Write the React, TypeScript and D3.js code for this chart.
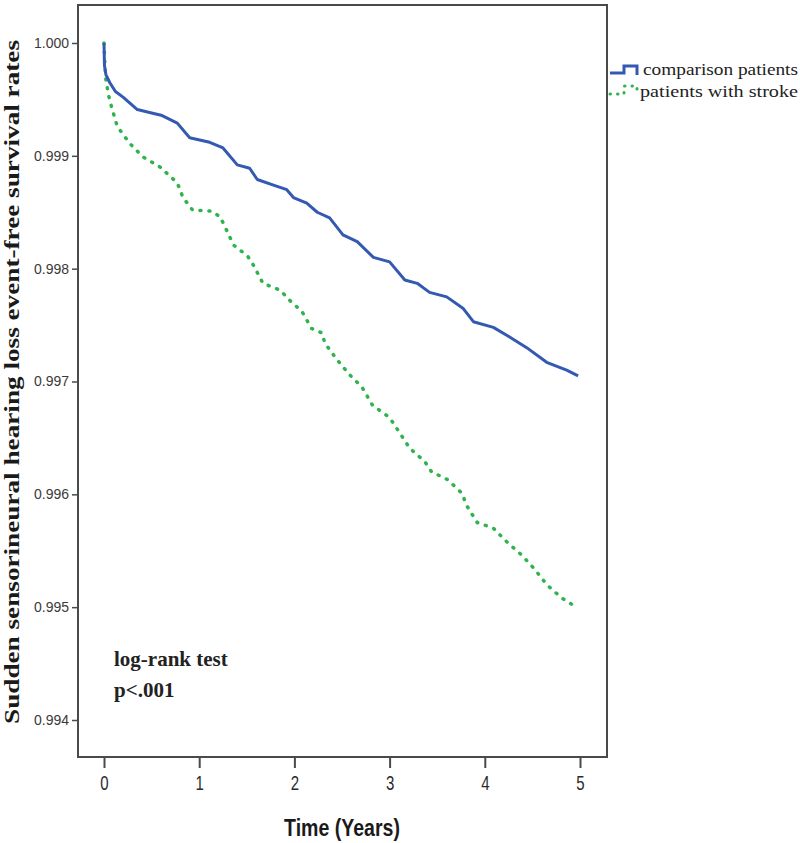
import React, { useEffect, useRef } from "react";
import * as d3 from "d3";

// comparison patients (blue, solid)
const compTime = [0, 0.005, 0.02, 0.06, 0.12, 0.2, 0.35, 0.5, 0.6, 0.77, 0.9, 1.11, 1.25, 1.4, 1.53, 1.61, 1.78, 1.92, 1.99, 2.13, 2.24, 2.37, 2.51, 2.66, 2.83, 3.0, 3.16, 3.29, 3.42, 3.6, 3.77, 3.88, 4.09, 4.23, 4.44, 4.65, 4.86, 4.98];
const compSurv = [1.0, 0.9998, 0.99972, 0.99965, 0.99957, 0.99952, 0.99941, 0.99938, 0.99936, 0.99929, 0.99916, 0.99912, 0.99907, 0.99892, 0.99889, 0.99879, 0.99874, 0.9987, 0.99863, 0.99858, 0.9985, 0.99845, 0.9983, 0.99824, 0.9981, 0.99806, 0.9979, 0.99787, 0.99779, 0.99775, 0.99765, 0.99753, 0.99748, 0.99741, 0.9973, 0.99717, 0.9971, 0.99705];

// patients with stroke (green, dotted)
const strokeTime = [0, 0.01, 0.02, 0.05, 0.08, 0.14, 0.27, 0.41, 0.59, 0.77, 0.83, 0.93, 1.13, 1.22, 1.3, 1.36, 1.51, 1.57, 1.67, 1.85, 1.95, 2.08, 2.18, 2.29, 2.32, 2.45, 2.58, 2.71, 2.82, 3.0, 3.11, 3.21, 3.37, 3.44, 3.61, 3.76, 3.81, 3.92, 4.09, 4.23, 4.39, 4.53, 4.65, 4.81, 4.98];
const strokeSurv = [1.0, 0.9998, 0.99967, 0.99953, 0.99943, 0.99926, 0.99911, 0.99899, 0.9989, 0.99876, 0.99863, 0.99852, 0.99851, 0.99846, 0.99832, 0.99821, 0.99811, 0.99803, 0.99787, 0.99781, 0.99772, 0.99762, 0.99747, 0.99743, 0.99734, 0.99719, 0.99706, 0.99695, 0.99679, 0.99668, 0.99654, 0.99641, 0.99629, 0.9962, 0.99613, 0.99601, 0.9959, 0.99575, 0.9957, 0.99558, 0.99546, 0.99533, 0.9952, 0.99508, 0.99499];

const xTicks = [0, 1, 2, 3, 4, 5];
const yTicks = [0.994, 0.995, 0.996, 0.997, 0.998, 0.999, 1.0];

const App: React.FC = () => {
  const svgRef = useRef<SVGSVGElement>(null);

  useEffect(() => {
    const svg = d3.select(svgRef.current);
    svg.selectAll("*").remove();

    const L = 78, R = 607, T = 5, B = 757;
    const FRAME = "#4a4a4a";

    const x = d3.scaleLinear().domain([0, 5]).range([104, 580]);
    const y = d3.scaleLinear().domain([0.994, 1.0]).range([720, 43]);

    svg.append("rect")
      .attr("width", 800).attr("height", 843).attr("fill", "#fff");

    // y axis
    const yAxis = svg.append("g")
      .attr("transform", `translate(${L},0)`)
      .call(d3.axisLeft(y).tickValues(yTicks).tickFormat(d3.format(".3f")).tickSize(6).tickPadding(3));
    yAxis.select(".domain").remove();
    yAxis.selectAll("line").attr("stroke", FRAME).attr("stroke-width", 1.5);
    yAxis.selectAll("text")
      .attr("font-family", "Liberation Sans, Arial, sans-serif")
      .attr("font-size", 14)
      .attr("fill", "#3a3a3a");

    // x axis
    const xAxis = svg.append("g")
      .attr("transform", `translate(0,${B})`)
      .call(d3.axisBottom(x).tickValues(xTicks).tickFormat(d3.format("d")).tickSize(11).tickPadding(0));
    xAxis.select(".domain").remove();
    xAxis.selectAll("line").attr("stroke", FRAME).attr("stroke-width", 2);
    xAxis.selectAll(".tick text").remove();
    xAxis.selectAll(".tick").append("text")
      .attr("transform", "translate(0,33) scale(0.75,1)")
      .attr("text-anchor", "middle")
      .attr("font-family", "Liberation Sans, Arial, sans-serif")
      .attr("font-size", 20)
      .attr("fill", "#2a2a2a")
      .text((d: any) => String(d));

    // curves
    const line = d3.line<[number, number]>()
      .x(d => x(d[0]))
      .y(d => y(d[1]));

    const compPts = compTime.map((t, i) => [t, compSurv[i]] as [number, number]);
    const strokePts = strokeTime.map((t, i) => [t, strokeSurv[i]] as [number, number]);

    svg.append("path")
      .attr("d", line(strokePts))
      .attr("fill", "none")
      .attr("stroke", "#2fb34f")
      .attr("stroke-width", 3.5)
      .attr("stroke-linecap", "round")
      .attr("stroke-dasharray", "1 8");

    svg.append("path")
      .attr("d", line(compPts))
      .attr("fill", "none")
      .attr("stroke", "#3459b2")
      .attr("stroke-width", 3)
      .attr("stroke-linejoin", "round");

    // frame
    svg.append("rect")
      .attr("x", L).attr("y", T)
      .attr("width", R - L).attr("height", B - T)
      .attr("fill", "none")
      .attr("stroke", FRAME)
      .attr("stroke-width", 2);

    // legend
    svg.append("path")
      .attr("d", "M610,73 H624 V66 H637 V75")
      .attr("fill", "none")
      .attr("stroke", "#3459b2")
      .attr("stroke-width", 3);
    svg.append("path")
      .attr("d", "M610,94 H624 V86 H637 V94")
      .attr("fill", "none")
      .attr("stroke", "#2fb34f")
      .attr("stroke-width", 3)
      .attr("stroke-linecap", "round")
      .attr("stroke-dasharray", "0.5 7");

    const legendFont = "Liberation Serif, Times New Roman, serif";
    svg.append("text")
      .attr("x", 643).attr("y", 75)
      .attr("font-family", legendFont).attr("font-size", 16)
      .attr("textLength", 155).attr("lengthAdjust", "spacingAndGlyphs")
      .attr("fill", "#222")
      .text("comparison patients");
    svg.append("text")
      .attr("x", 640).attr("y", 97)
      .attr("font-family", legendFont).attr("font-size", 16)
      .attr("textLength", 158).attr("lengthAdjust", "spacingAndGlyphs")
      .attr("fill", "#222")
      .text("patients with stroke");

    // log-rank annotation
    svg.append("text")
      .attr("x", 114).attr("y", 666)
      .attr("font-family", legendFont).attr("font-weight", "bold").attr("font-size", 21)
      .attr("fill", "#222")
      .text("log-rank test");
    svg.append("text")
      .attr("x", 114).attr("y", 697)
      .attr("font-family", legendFont).attr("font-weight", "bold").attr("font-size", 21)
      .attr("fill", "#222")
      .text("p<.001");

    // axis titles
    svg.append("text")
      .attr("transform", "translate(342,836) scale(0.85,1)")
      .attr("text-anchor", "middle")
      .attr("font-family", "Liberation Sans, Arial, sans-serif")
      .attr("font-weight", "bold").attr("font-size", 23)
      .attr("fill", "#1a1a1a")
      .text("Time (Years)");

    svg.append("text")
      .attr("transform", "translate(19,382) rotate(-90)")
      .attr("text-anchor", "middle")
      .attr("font-family", legendFont)
      .attr("font-weight", "bold").attr("font-size", 20)
      .attr("textLength", 684).attr("lengthAdjust", "spacingAndGlyphs")
      .attr("fill", "#1a1a1a")
      .text("Sudden sensorineural hearing loss event-free survival rates");
  }, []);

  return (
    <svg
      ref={svgRef}
      width={800}
      height={843}
      style={{ position: "absolute", left: 0, top: 0, display: "block" }}
    />
  );
};

export default App;
